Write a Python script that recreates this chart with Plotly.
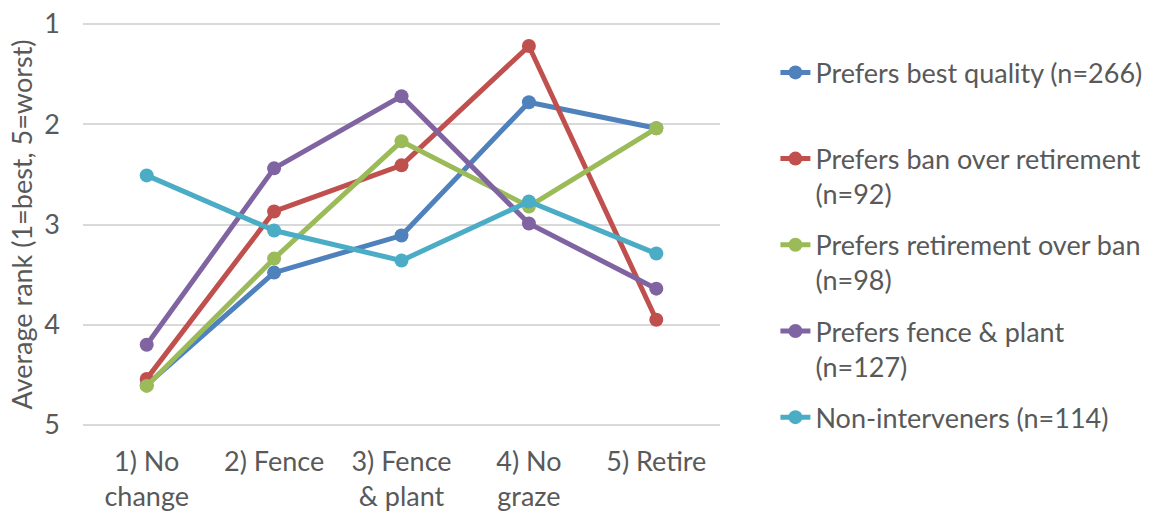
import plotly.graph_objects as go

# Restoration options, in ranking order
categories = ["1) No<br>change", "2) Fence", "3) Fence<br>& plant", "4) No<br>graze", "5) Retire"]

# Average rank given by each respondent group (1 = best, 5 = worst)
best_quality = [4.60, 3.48, 3.11, 1.78, 2.04]
ban_over_retire = [4.54, 2.87, 2.41, 1.22, 3.95]
retire_over_ban = [4.61, 3.34, 2.17, 2.82, 2.04]
fence_plant = [4.20, 2.44, 1.72, 2.99, 3.64]
non_interveners = [2.51, 3.06, 3.36, 2.77, 3.29]

series = [
    ("Prefers best quality (n=266)<br> ", best_quality, "#4F81BD"),
    ("Prefers ban over retirement<br>(n=92)", ban_over_retire, "#C0504D"),
    ("Prefers retirement over ban<br>(n=98)", retire_over_ban, "#9BBB59"),
    ("Prefers fence & plant<br>(n=127)", fence_plant, "#8064A2"),
    ("Non-interveners (n=114)", non_interveners, "#4BACC6"),
]

FONT = "Lato"
FS = 27
TEXT = "#595959"
GRID = "#D9D9D9"

fig = go.Figure()
xs = list(range(len(categories)))
for i, (name, vals, color) in enumerate(series):
    fig.add_trace(go.Scatter(
        x=xs, y=vals, name=name, mode="lines+markers",
        legendgroup=f"g{i}",
        line=dict(color=color, width=5),
        marker=dict(color=color, size=14),
    ))

fig.update_layout(
    width=1155, height=511,
    margin=dict(l=83, r=435, t=22, b=84, autoexpand=False),
    paper_bgcolor="white", plot_bgcolor="white",
    font=dict(family=FONT, size=FS, color=TEXT),
    showlegend=True,
    legend=dict(
        x=1.087, xanchor="left", y=0.935, yanchor="top",
        valign="top", traceorder="grouped", tracegroupgap=13,
        maxheight=511,
        font=dict(family=FONT, size=FS, color=TEXT),
        bgcolor="rgba(0,0,0,0)",
    ),
)
fig.update_xaxes(
    range=[-0.5, 4.5], tickvals=xs, ticktext=categories,
    showgrid=False, zeroline=False, showline=False, automargin=False,
    ticks="", ticklabelstandoff=16,
    tickfont=dict(family=FONT, size=FS, color=TEXT),
)
fig.update_yaxes(
    range=[5.02, 0.98], tickvals=[1, 2, 3, 4, 5],
    showgrid=True, gridcolor=GRID, gridwidth=2, automargin=False,
    zeroline=False, showline=False, ticks="", ticklabelstandoff=22,
    tickfont=dict(family=FONT, size=FS, color=TEXT),
    title=dict(text="Average rank (1=best, 5=worst)", standoff=3,
               font=dict(family=FONT, size=FS, color=TEXT)),
)

fig.write_html("out.html")
